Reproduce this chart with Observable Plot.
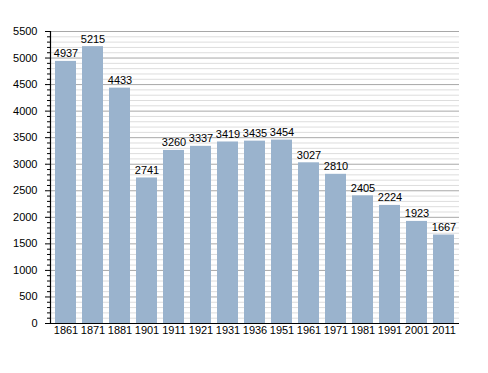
<!DOCTYPE html>
<html>
<head>
<meta charset="utf-8">
<script src="https://cdn.jsdelivr.net/npm/d3@7"></script>
<script src="https://cdn.jsdelivr.net/npm/@observablehq/plot@0.6"></script>
<style>
  html, body { margin: 0; padding: 0; background: #fff; }
  #chart svg { display: block; }
</style>
</head>
<body>
<div id="chart"></div>
<script>
const years = ["1861","1871","1881","1901","1911","1921","1931","1936","1951","1961","1971","1981","1991","2001","2011"];
const population = [4937, 5215, 4433, 2741, 3260, 3337, 3419, 3435, 3454, 3027, 2810, 2405, 2224, 1923, 1667];
const majorTicks = [0, 500, 1000, 1500, 2000, 2500, 3000, 3500, 4000, 4500, 5000, 5500];
const minorTicks = d3.range(0, 5501, 100).filter(v => v % 500 !== 0);

const data = years.map((y, i) => ({year: y, pop: population[i]}));

const chart = Plot.plot({
  width: 488,
  height: 373,
  marginLeft: 50,
  marginRight: 29,
  marginTop: 31,
  marginBottom: 50,
  style: {fontFamily: "'Liberation Sans', Arial, sans-serif", fontSize: "11px", color: "#000", background: "#fff"},
  x: {domain: years, paddingInner: 0.22, paddingOuter: 0.05, label: null},
  y: {domain: [0, 5500], label: null},
  marks: [
    Plot.ruleY(minorTicks, {stroke: "#dddddd", strokeWidth: 1, strokeOpacity: 1}),
    Plot.ruleY(majorTicks, {stroke: "#a8a8a8", strokeWidth: 1, strokeOpacity: 1}),
    Plot.barY(data, {x: "year", y: "pop", fill: "#9ab3cd"}),
    Plot.text(data, {x: "year", y: "pop", text: d => String(d.pop), dy: -4, lineAnchor: "bottom", fill: "#000", fontSize: 11}),
    Plot.axisY({ticks: minorTicks, tickSize: 3, text: null, strokeOpacity: 1}),
    Plot.axisY({ticks: majorTicks, tickSize: 5, tickPadding: 8, tickFormat: d => String(d), strokeOpacity: 1, fontSize: 11}),
    Plot.axisX({tickSize: 0, tickPadding: 3, fontSize: 11}),
    Plot.ruleY([0], {stroke: "#000", strokeWidth: 1.2}),
    Plot.frame({anchor: "left", stroke: "#000", strokeWidth: 1.2})
  ]
});
document.getElementById("chart").appendChild(chart);
</script>
</body>
</html>
